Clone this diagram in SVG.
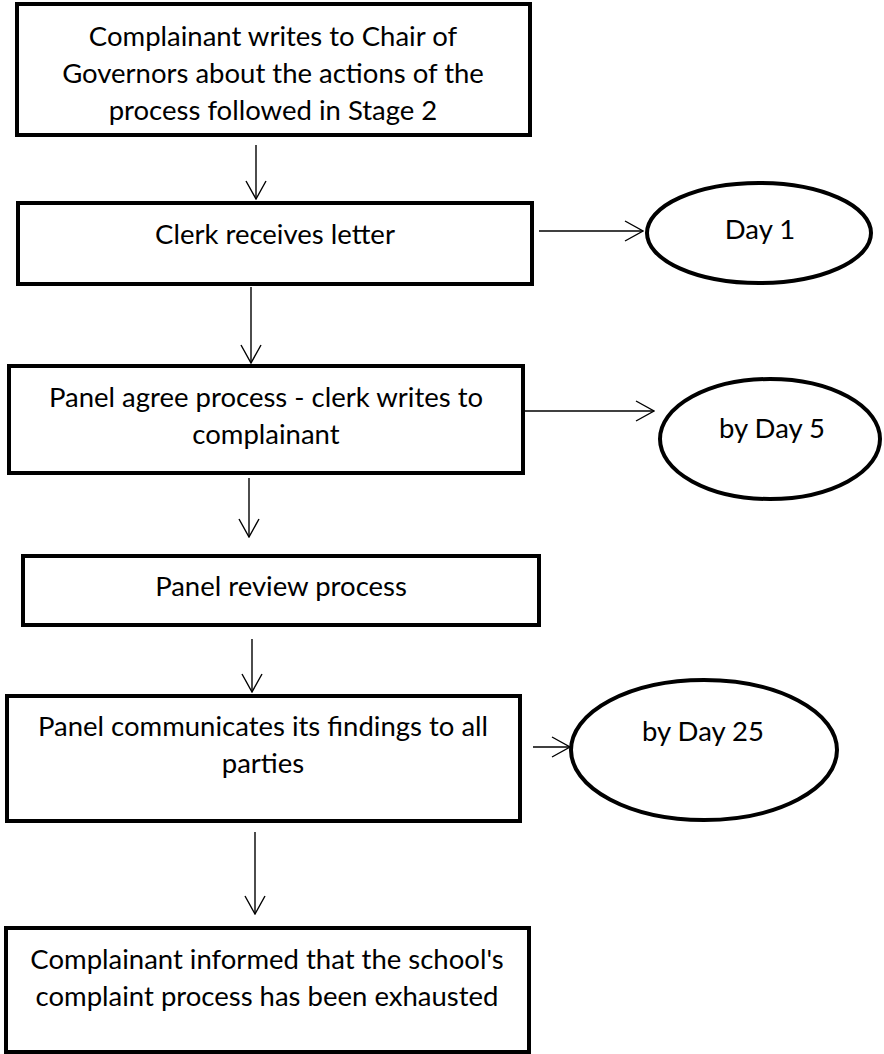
<svg xmlns="http://www.w3.org/2000/svg" width="884" height="1054" viewBox="0 0 884 1054">
<defs>
<style>
.box{fill:#fff;stroke:#000;stroke-width:4}
.ell{fill:#fff;stroke:#000;stroke-width:4}
.lbl{font-family:Lato,"Liberation Sans",sans-serif;font-size:27.5px;fill:#000;text-anchor:middle}
.con{fill:none;stroke:#000;stroke-width:1.4}
</style>
<marker id="ah" markerUnits="userSpaceOnUse" viewBox="0 0 20 22" markerWidth="20" markerHeight="22" refX="19" refY="11" orient="auto">
<path d="M1,1 L19,11 L1,21" fill="none" stroke="#000" stroke-width="1.4"/>
</marker>
</defs>
<rect width="884" height="1054" fill="#fff"/>
<g id="connectors">
<line class="con" x1="256" y1="145" x2="256" y2="199" marker-end="url(#ah)"/>
<line class="con" x1="251" y1="287" x2="251" y2="363" marker-end="url(#ah)"/>
<line class="con" x1="249" y1="478" x2="249" y2="537" marker-end="url(#ah)"/>
<line class="con" x1="252" y1="639" x2="252" y2="692" marker-end="url(#ah)"/>
<line class="con" x1="255" y1="832" x2="255" y2="914" marker-end="url(#ah)"/>
<line class="con" x1="539" y1="231" x2="643" y2="231" marker-end="url(#ah)"/>
<line class="con" x1="525" y1="411" x2="654" y2="411" marker-end="url(#ah)"/>
<line class="con" x1="533" y1="747" x2="570" y2="747" marker-end="url(#ah)"/>
</g>
<g id="n1">
<rect class="box" x="17" y="4" width="513" height="131"/>
<text class="lbl" x="273" y="46">Complainant writes to Chair of</text>
<text class="lbl" x="273" y="83">Governors about the actions of the</text>
<text class="lbl" x="273" y="120">process followed in Stage 2</text>
</g>
<g id="n2">
<rect class="box" x="18" y="203" width="514" height="81"/>
<text class="lbl" x="275" y="244">Clerk receives letter</text>
</g>
<g id="n3">
<rect class="box" x="9" y="366" width="514" height="107"/>
<text class="lbl" x="266" y="407">Panel agree process - clerk writes to</text>
<text class="lbl" x="266" y="444">complainant</text>
</g>
<g id="n4">
<rect class="box" x="23" y="556" width="516" height="69"/>
<text class="lbl" x="281" y="596">Panel review process</text>
</g>
<g id="n5">
<rect class="box" x="7" y="696" width="513" height="125"/>
<text class="lbl" x="263" y="736">Panel communicates its findings to all</text>
<text class="lbl" x="263" y="773">parties</text>
</g>
<g id="n6">
<rect class="box" x="6" y="928" width="523" height="124"/>
<text class="lbl" x="267" y="969">Complainant informed that the school's</text>
<text class="lbl" x="267" y="1006">complaint process has been exhausted</text>
</g>
<g id="e1">
<ellipse class="ell" cx="759" cy="233" rx="112" ry="50"/>
<text class="lbl" x="760" y="239">Day 1</text>
</g>
<g id="e2">
<ellipse class="ell" cx="770" cy="439" rx="110" ry="60"/>
<text class="lbl" x="772" y="438">by Day 5</text>
</g>
<g id="e3">
<ellipse class="ell" cx="704" cy="750" rx="133" ry="70"/>
<text class="lbl" x="703" y="741">by Day 25</text>
</g>
</svg>
